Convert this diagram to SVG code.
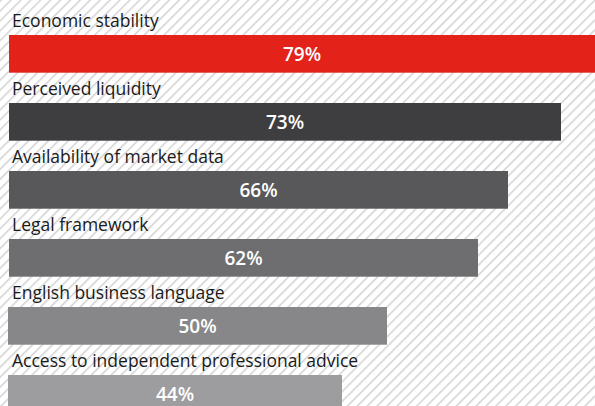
<svg xmlns="http://www.w3.org/2000/svg" width="595" height="406" viewBox="0 0 595 406">
<defs>
<pattern id="hatch" patternUnits="userSpaceOnUse" width="7" height="7" patternTransform="rotate(45)">
<rect width="7" height="7" fill="#ffffff"/>
<line x1="0" y1="0" x2="0" y2="7" stroke="#d2d2d2" stroke-width="3"/>
</pattern>
<style>
.lbl{font-family:"Open Sans","Liberation Sans",sans-serif;font-size:17.5px;fill:#1a1a1a;}
.val{font-family:"Open Sans","Liberation Sans",sans-serif;font-size:19px;font-weight:600;fill:#ffffff;text-anchor:middle;}
</style>
</defs>
<rect width="595" height="406" fill="url(#hatch)"/>
<g id="bar1">
<text class="lbl" x="12" y="26.5">Economic stability</text>
<rect x="9" y="35" width="586" height="37.7" fill="#e3221a"/>
<text class="val" x="302" y="60.5">79%</text>
</g>
<g id="bar2">
<text class="lbl" x="12" y="94.5">Perceived liquidity</text>
<rect x="9" y="103" width="552" height="37.7" fill="#3e3e40"/>
<text class="val" x="285" y="128.5">73%</text>
</g>
<g id="bar3">
<text class="lbl" x="12" y="162.5">Availability of market data</text>
<rect x="9" y="171" width="499" height="37.7" fill="#58585a"/>
<text class="val" x="258.5" y="196.5">66%</text>
</g>
<g id="bar4">
<text class="lbl" x="12" y="230.5">Legal framework</text>
<rect x="9" y="239" width="469" height="37.7" fill="#6e6e70"/>
<text class="val" x="243.5" y="264.5">62%</text>
</g>
<g id="bar5">
<text class="lbl" x="12" y="298.5">English business language</text>
<rect x="8" y="307" width="379" height="37.7" fill="#878789"/>
<text class="val" x="197.5" y="332.5">50%</text>
</g>
<g id="bar6">
<text class="lbl" x="12" y="366.5">Access to independent professional advice</text>
<rect x="8" y="375" width="334" height="37.7" fill="#9d9d9f"/>
<text class="val" x="175" y="400.5">44%</text>
</g>
<g id="connectors"/>
</svg>
